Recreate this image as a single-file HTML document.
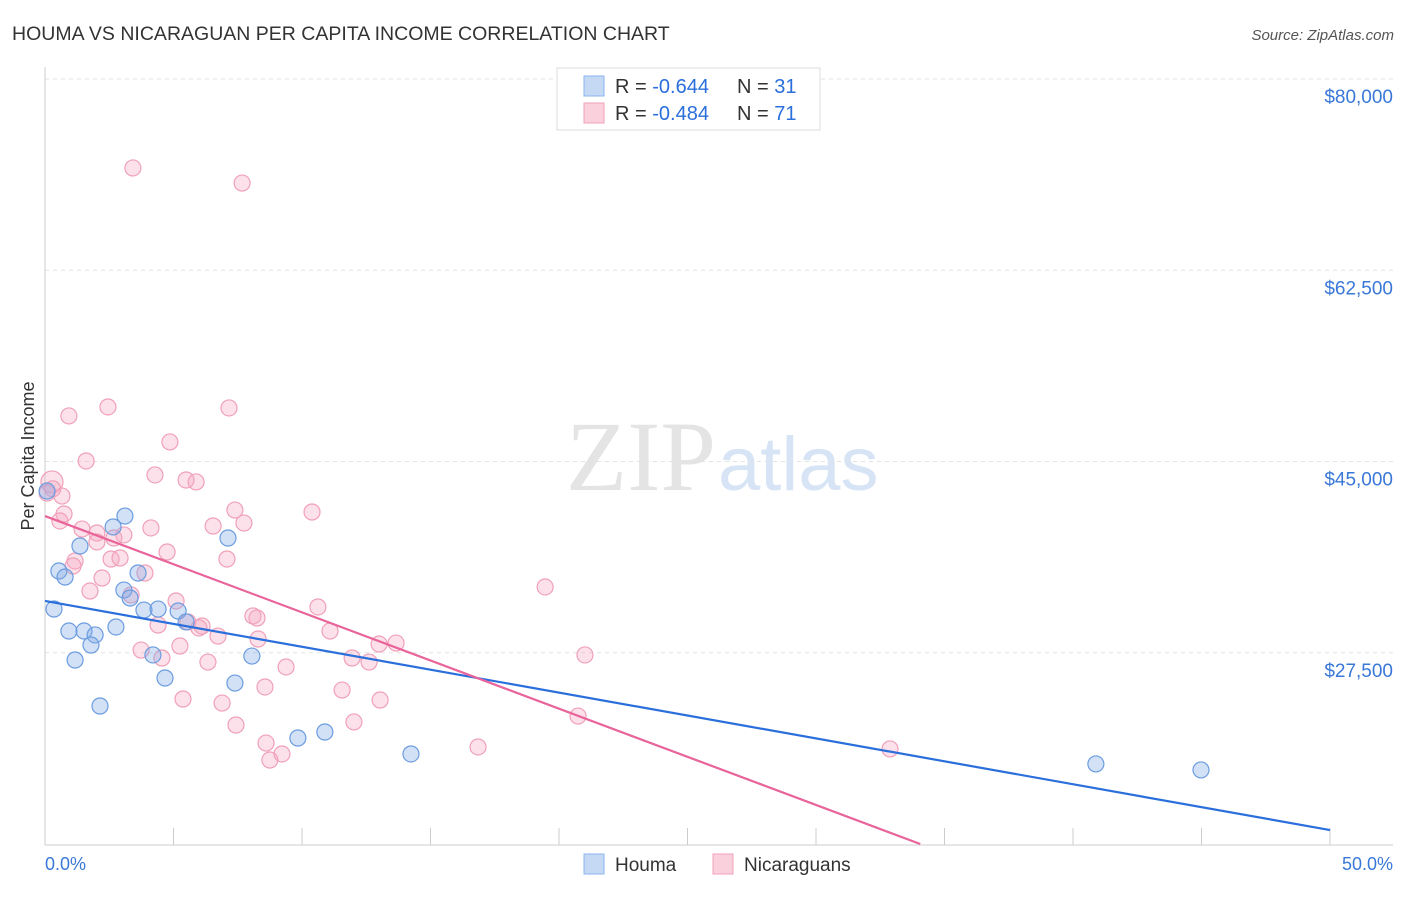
<!DOCTYPE html>
<html><head><meta charset="utf-8"><style>
body{margin:0;background:#fff;font-family:"Liberation Sans",sans-serif}
</style></head><body>
<svg id="c" width="1406" height="892" xmlns="http://www.w3.org/2000/svg">
<text x="12" y="40" font-size="19.5" fill="#333">HOUMA VS NICARAGUAN PER CAPITA INCOME CORRELATION CHART</text>
<text x="1394" y="40" font-size="15" fill="#555" font-style="italic" text-anchor="end">Source: ZipAtlas.com</text>
<text x="716" y="490" font-size="100" fill="#e4e4e4" font-family="Liberation Serif" text-anchor="end">ZIP</text>
<text x="718" y="490" font-size="76" fill="#d6e4f5">atlas</text>
<text x="34" y="456" font-size="18" fill="#333" transform="rotate(-90 34 456)" text-anchor="middle">Per Capita Income</text>
<g id="grid"></g><g id="pts"></g><g id="lines"></g>
<g>
<rect x="557" y="68" width="263" height="62" fill="#fff" stroke="#ddd"/>
<rect x="584" y="76" width="20" height="20" fill="#c5d9f5" stroke="#8ab4ee"/>
<rect x="584" y="103" width="20" height="20" fill="#fbd0dd" stroke="#f0a0b8"/>
<text x="615" y="93" font-size="20" fill="#333">R = <tspan fill="#2a6fdb">-0.644</tspan></text>
<text x="737" y="93" font-size="20" fill="#333">N = <tspan fill="#2a6fdb">31</tspan></text>
<text x="615" y="120" font-size="20" fill="#333">R = <tspan fill="#2a6fdb">-0.484</tspan></text>
<text x="737" y="120" font-size="20" fill="#333">N = <tspan fill="#2a6fdb">71</tspan></text>
</g>
<g>
<rect x="584" y="854" width="20" height="20" fill="#c5d9f5" stroke="#8ab4ee"/>
<text x="615" y="871" font-size="19" fill="#333">Houma</text>
<rect x="713" y="854" width="20" height="20" fill="#fbd0dd" stroke="#f0a0b8"/>
<text x="744" y="871" font-size="19" fill="#333">Nicaraguans</text>
</g>
<text x="45" y="870" font-size="18" fill="#3a78d8">0.0%</text>
<text x="1393" y="870" font-size="18" fill="#3a78d8" text-anchor="end">50.0%</text>
</svg>
<script>
const yTicks=[80000,62500,45000,27500];
const yTickLabels=["$80,000","$62,500","$45,000","$27,500"];
const xTicks=[0,5,10,15,20,25,30,35,40,45,50];
const houmaX=[0.08,0.54,0.78,1.36,2.65,3.11,7.12,0.35,0.93,1.52,1.95,1.79,2.76,1.17,3.07,3.31,3.62,3.85,4.40,5.18,5.49,4.20,4.67,8.05,7.39,2.14,9.84,10.89,14.24,40.89,44.98];
const houmaY=[42300,34980,34430,37270,39010,40010,38000,31505,29490,29490,29130,28210,29860,26840,33240,32510,34800,31410,31500,31320,30320,27300,25190,27200,24730,22630,19700,20250,18240,17330,16780];
const nicX=[3.42,7.67,2.45,7.16,0.93,4.86,1.60,4.28,5.49,5.88,0.27,0.08,0.66,7.39,10.39,0.74,0.58,6.54,7.74,4.12,1.44,2.02,2.68,3.07,2.02,4.75,2.57,2.92,1.17,1.09,7.08,3.89,2.22,1.75,3.35,5.10,10.62,8.09,5.56,4.40,6.11,5.99,6.73,8.25,8.29,11.09,5.25,3.74,4.55,6.34,11.95,12.61,13.00,13.66,19.46,21.01,9.38,8.56,5.37,6.89,11.56,13.04,7.43,12.02,20.74,8.60,8.75,9.22,16.85,32.88,0.3];
const nicY=[71860,70480,49990,49900,49170,46790,45050,43770,43310,43130,43130,42120,41840,40560,40380,40200,39560,39100,39370,38920,38820,38460,38000,38280,37640,36720,36080,36170,35900,35440,36080,34800,34340,33150,32790,32240,31690,30870,30320,30040,29950,29770,29030,30680,28760,29490,28120,27750,27020,26650,27020,26650,28300,28390,33520,27300,26200,24370,23270,22900,24090,23180,20890,21170,21710,19240,17690,18240,18880,18700,42500];
const houmaTrend=[32240,11280]; // value at 0% and 50%
const nicTrend=[40010,-4050];
const X=v=>45+v*25.7, Y=v=>79+(80000-v)/91.5;
const NS="http://www.w3.org/2000/svg";
function mk(t,a,p){const e=document.createElementNS(NS,t);for(const k in a)e.setAttribute(k,a[k]);p.appendChild(e);return e;}
const g=document.getElementById('grid');
yTicks.forEach((t,i)=>{
 const l=mk('line',{x1:45,x2:1393,y1:Y(t),y2:Y(t),stroke:'#e2e2e2','stroke-dasharray':'4 4'},g);
 
 
 const tx=mk('text',{x:1393,y:Y(t)+24,'font-size':19,fill:'#3a78d8','text-anchor':'end'},g);
 tx.textContent=yTickLabels[i];
 
 
});
mk('line',{x1:45,x2:45,y1:67,y2:845,stroke:'#ccc'},g);
mk('line',{x1:45,x2:1393,y1:845,y2:845,stroke:'#ccc'},g);
xTicks.forEach(t=>{const l=mk('line',{x1:X(t),x2:X(t),y1:828,y2:845,stroke:'#ccc'},g);
 
 });
const p=document.getElementById('pts');
nicX.forEach((x,i)=>{const r=i==10?11:8;const c=mk('circle',{cx:X(x),cy:Y(nicY[i]),r:r,fill:'rgba(246,170,195,0.35)',stroke:'#f0a0b8','stroke-width':1.2},p);
 
 });
houmaX.forEach((x,i)=>{const c=mk('circle',{cx:X(x),cy:Y(houmaY[i]),r:8,fill:'rgba(130,170,230,0.35)',stroke:'#6a9ce0','stroke-width':1.2},p);
 
 });
const L=document.getElementById('lines');
const hl=mk('line',{x1:X(0),y1:Y(houmaTrend[0]),x2:X(50),y2:Y(houmaTrend[1]),stroke:'#2a6fdb','stroke-width':2.2},L);


const s=(nicTrend[1]-nicTrend[0])/50, xe=Math.min(50,(10000-nicTrend[0])/s);
const pl=mk('line',{x1:X(0),y1:Y(nicTrend[0]),x2:X(xe),y2:Y(nicTrend[0]+s*xe),stroke:'#e8649a','stroke-width':2.2},L);


</script>
</body></html>
